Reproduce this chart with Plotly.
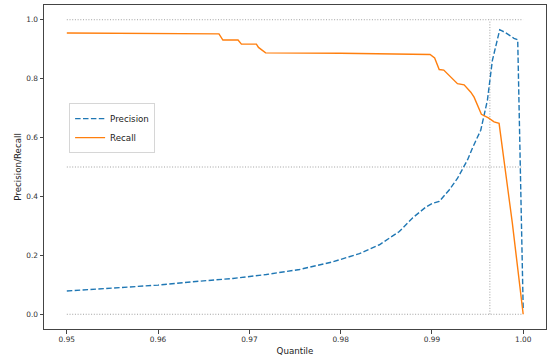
import plotly.graph_objects as go

# Precision curve
prec_q = [0.95, 0.955, 0.96, 0.9646, 0.9682, 0.97186, 0.9755, 0.97914, 0.98206, 0.98425,
          0.98643, 0.98788, 0.98934, 0.99007, 0.9908, 0.99189, 0.99281, 0.9939, 0.99445,
          0.99535, 0.9957, 0.99608, 0.99662, 0.99743, 0.99801, 0.99899, 0.9994, 1.0]
prec_v = [0.079, 0.089, 0.099, 0.1125, 0.1216, 0.135, 0.152, 0.178, 0.206, 0.236,
          0.281, 0.327, 0.364, 0.377, 0.383, 0.422, 0.462, 0.524, 0.565,
          0.625, 0.676, 0.726, 0.861, 0.966, 0.957, 0.937, 0.932, 0.02]

# Recall curve
rec_q = [0.95, 0.96667, 0.9671, 0.96876, 0.96913, 0.97077, 0.971, 0.97178, 0.98, 0.9898,
         0.9903, 0.9908, 0.9913, 0.9928, 0.99353, 0.99426, 0.99462, 0.99542, 0.99619,
         0.99681, 0.99736, 0.99794, 0.99881, 1.0]
rec_v = [0.955, 0.952, 0.931, 0.931, 0.917, 0.917, 0.906, 0.8875, 0.886, 0.882,
         0.87, 0.831, 0.829, 0.783, 0.779, 0.754, 0.737, 0.679, 0.667,
         0.653, 0.648, 0.52, 0.31, 0.0]

# Reference lines
hline_levels = [0.0, 0.5, 1.0]
hline_span = [0.95, 1.0]
vline_q = 0.99635
vline_span = [0.0, 1.0]

x_ticks = [0.95, 0.96, 0.97, 0.98, 0.99, 1.00]
x_tick_text = ["0.95", "0.96", "0.97", "0.98", "0.99", "1.00"]
y_ticks = [0.0, 0.2, 0.4, 0.6, 0.8, 1.0]
y_tick_text = ["0.0", "0.2", "0.4", "0.6", "0.8", "1.0"]

fig = go.Figure()

for lvl in hline_levels:
    fig.add_trace(go.Scatter(x=hline_span, y=[lvl, lvl], mode="lines",
                             line=dict(color="#a0a0a0", width=1, dash="1px,1.7px"),
                             showlegend=False, hoverinfo="skip"))
fig.add_trace(go.Scatter(x=[vline_q, vline_q], y=vline_span, mode="lines",
                         line=dict(color="#a0a0a0", width=1, dash="1px,1.7px"),
                         showlegend=False, hoverinfo="skip"))

fig.add_trace(go.Scatter(x=prec_q, y=prec_v, mode="lines", name="Precision",
                         line=dict(color="#1f77b4", width=1.4, dash="5.5px,2.4px")))
fig.add_trace(go.Scatter(x=rec_q, y=rec_v, mode="lines", name="Recall",
                         line=dict(color="#ff7f0e", width=1.4)))

axis_common = dict(showline=True, linecolor="#444", linewidth=1, mirror=True,
                   ticks="outside", ticklen=3.5, tickcolor="#444", tickwidth=1,
                   showgrid=False, zeroline=False,
                   tickfont=dict(family="DejaVu Sans", size=7.4, color="#333"))

fig.update_layout(
    width=552, height=358,
    margin=dict(l=44, r=6, t=4, b=28),
    plot_bgcolor="white", paper_bgcolor="white",
    xaxis=dict(range=[0.9475, 1.0025], tickvals=x_ticks, ticktext=x_tick_text,
               title=dict(text="Quantile", standoff=4,
                          font=dict(family="DejaVu Sans", size=8.7, color="#222")),
               **axis_common),
    yaxis=dict(range=[-0.05, 1.05], tickvals=y_ticks, ticktext=y_tick_text,
               title=dict(text="Precision/Recall", standoff=3,
                          font=dict(family="DejaVu Sans", size=8.7, color="#222")),
               **axis_common),
    legend=dict(x=0.05, y=0.697, xanchor="left", yanchor="top",
                bgcolor="rgba(255,255,255,0.8)", bordercolor="#d6d6d6", borderwidth=1,
                font=dict(family="DejaVu Sans", size=8.7, color="#222"),
                itemwidth=30, tracegroupgap=0),
)

fig.write_html("out.html", config={"displayModeBar": False},
               post_script="document.body.style.margin='0';")
